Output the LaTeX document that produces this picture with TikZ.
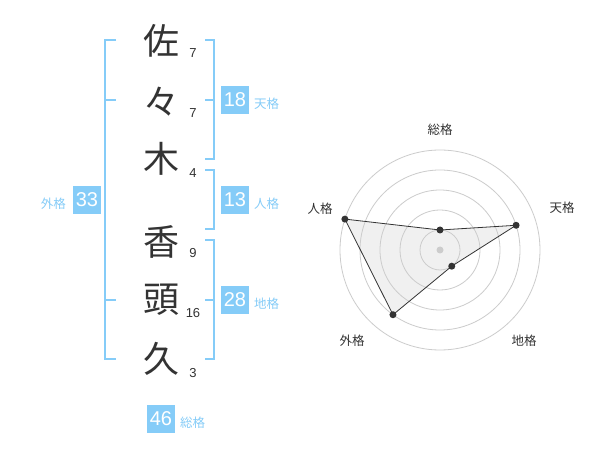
\documentclass[tikz,border=0pt]{standalone}
\usepackage{fontspec}
\setmainfont{Liberation Sans}
\newfontfamily\jp{Noto Sans CJK JP}
\definecolor{ink}{HTML}{333333}
\definecolor{sky}{HTML}{85CCF8}
\definecolor{ring}{HTML}{CCCCCC}
\definecolor{area}{HTML}{F0F0F0}
\begin{document}
\begin{tikzpicture}[x=1pt,y=-1pt,
  kanji/.style={font=\jp\fontsize{36}{40}\selectfont, text=ink, inner sep=0},
  strokenum/.style={font=\fontsize{13}{15}\selectfont, text=ink, inner sep=0},
  numbox/.style={fill=sky, text=white, minimum size=28, inner sep=0, font=\fontsize{20}{22}\selectfont},
  kaku/.style={font=\jp\fontsize{12.5}{14}\selectfont, text=sky, inner sep=0},
  bracket/.style={draw=sky, line width=2},
  radlabel/.style={font=\jp\fontsize{12.5}{14}\selectfont, text=ink, inner sep=0},
  dot/.style={circle, fill=ink, inner sep=0, minimum size=7},
]
\useasboundingbox[fill=white] (0,0) rectangle (600,470);
% characters
\node[kanji] (c1) at (161,41) {佐};
\node[kanji] (c2) at (161,102) {々};
\node[kanji] (c3) at (161,159) {木};
\node[kanji] (c4) at (161,242) {香};
\node[kanji] (c5) at (161,300) {頭};
\node[kanji] (c6) at (161,359) {久};
% stroke counts
\node[strokenum] (s1) at (193,53) {7};
\node[strokenum] (s2) at (193,113) {7};
\node[strokenum] (s3) at (193,173) {4};
\node[strokenum] (s4) at (193,253) {9};
\node[strokenum] (s5) at (193,313) {16};
\node[strokenum] (s6) at (193,373) {3};
% brackets
\draw[bracket] (116,40) -- (105,40) -- (105,359) -- (116,359);
\draw[bracket] (105,100) -- (116,100);
\draw[bracket] (105,300) -- (116,300);
\draw[bracket] (205,40) -- (214,40) -- (214,159) -- (205,159);
\draw[bracket] (205,100) -- (214,100);
\draw[bracket] (205,170) -- (214,170) -- (214,229) -- (205,229);
\draw[bracket] (205,240) -- (214,240) -- (214,359) -- (205,359);
\draw[bracket] (205,300) -- (214,300);
% boxes
\node[numbox] (ten) at (235,100) {18};
\node[kaku, anchor=west] (tenl) at (254,104) {天格};
\node[numbox] (jin) at (235,200) {13};
\node[kaku, anchor=west] (jinl) at (254,204) {人格};
\node[numbox] (chi) at (235,300) {28};
\node[kaku, anchor=west] (chil) at (254,304) {地格};
\node[numbox] (gai) at (87,200) {33};
\node[kaku, anchor=east] (gail) at (66,204) {外格};
\node[numbox] (sou) at (161,419) {46};
\node[kaku, anchor=west] (soul) at (180,423) {総格};
% radar labels
\node[radlabel] (l1) at (440,130) {総格};
\node[radlabel] (l2) at (562,208) {天格};
\node[radlabel] (l3) at (524,341) {地格};
\node[radlabel] (l4) at (352,341) {外格};
\node[radlabel] (l5) at (320,209) {人格};
\begin{scope}[shift={(440,250)}, y=1pt]
  \fill[area] (90:20) -- (18:80) -- (-54:20) -- (-126:80) -- (162:100) -- cycle;
  \foreach \r in {20,40,60,80,100} \draw[ring, line width=0.8] (0,0) circle[radius=\r];
  \node[circle, fill=ring, inner sep=0, minimum size=7] (o) at (0,0) {};
  \node[dot] (p1) at (90:20) {};
  \node[dot] (p2) at (18:80) {};
  \node[dot] (p3) at (-54:20) {};
  \node[dot] (p4) at (-126:80) {};
  \node[dot] (p5) at (162:100) {};
  \draw[ink, line width=0.8] (p1.center) -- (p2.center) -- (p3.center) -- (p4.center) -- (p5.center) -- cycle;
\end{scope}
\end{tikzpicture}
\end{document}
